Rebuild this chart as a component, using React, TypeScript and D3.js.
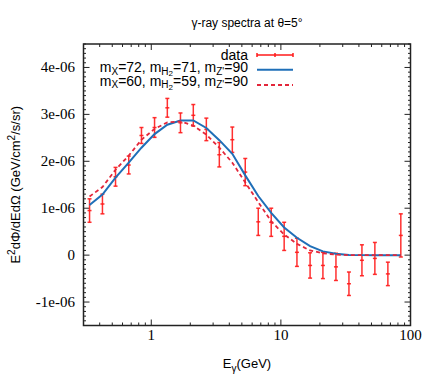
import * as d3 from "d3";

// photon energies (GeV) of the measured bins
const energies = [0.334, 0.42, 0.53, 0.67, 0.84, 1.06, 1.33, 1.68, 2.11, 2.66, 3.35, 4.22, 5.31,
  6.69, 8.42, 10.6, 13.3, 16.8, 21.1, 26.6, 33.5, 42.2, 53.1, 66.9, 84.2];
// E^2 dPhi/dEdOmega, in units of 1e-06 GeV/cm^2/s/sr
const fluxData = [0.95, 1.09, 1.67, 1.92, 2.55, 2.72, 3.14, 2.82, 2.98, 2.68, 2.14, 2.46, 1.77,
  0.71, 0.70, 0.40, 0.06, -0.22, -0.22, -0.25, -0.61, -0.11, -0.07, -0.40, 0.42];
const fluxErr = [0.25, 0.21, 0.2, 0.19, 0.17, 0.21, 0.2, 0.21, 0.23, 0.24, 0.26, 0.27, 0.29,
  0.29, 0.3, 0.3, 0.3, 0.27, 0.28, 0.29, 0.25, 0.33, 0.34, 0.25, 0.46];
const model72 = [1.07, 1.29, 1.65, 1.97, 2.29, 2.58, 2.78, 2.87, 2.87, 2.71, 2.45, 2.16, 1.70,
  1.26, 0.90, 0.59, 0.37, 0.19, 0.08, 0.03, 0.005, 0, 0, 0, 0];
const model60 = [1.25, 1.45, 1.82, 2.12, 2.46, 2.69, 2.83, 2.85, 2.76, 2.57, 2.29, 1.97, 1.55,
  1.13, 0.72, 0.44, 0.24, 0.10, 0.04, 0.01, 0, 0, 0, 0, 0];

const yTicks = [-1, 0, 1, 2, 3, 4];
const yTickLabels = ["-1e-06", "0", "1e-06", "2e-06", "3e-06", "4e-06"];
const xTicks = [1, 10, 100];
const xTickLabels = ["1", "10", "100"];

const W = 436;
const H = 389;
const L = 83.5, R = 410.5, T = 44, B = 325.5;

const RED = "#ff1a1a";
const BLUE = "#1f6fb8";
const DASH = "#e3263a";

export default function App() {
  const x = d3.scaleLog().domain([0.3, 100]).range([L, R]);
  const y = d3.scaleLinear().domain([-1.5, 4.5]).range([B, T]);

  const line = d3.line<number>()
    .x((_, i) => x(energies[i]))
    .y(d => y(d));

  const xMinor: number[] = [];
  [0.1, 1, 10].forEach(dec => {
    for (let k = 2; k <= 9; k++) {
      const v = k * dec;
      if (v >= 0.3 && v < 100 && ![1, 10].includes(v)) xMinor.push(v);
    }
  });
  const yMinor = d3.range(-15, 46).map(v => v / 10).filter(v => !yTicks.includes(v));

  const serif = "'Liberation Serif', 'Times New Roman', serif";
  const sans = "'Liberation Sans', Arial, sans-serif";

  return (
    <svg width={W} height={H} style={{ position: "absolute", left: 0, top: 0, background: "#fff" }}>
      <text x={(L + R) / 2} y={27} textAnchor="middle" fontFamily={sans} fontSize={12}>
        γ-ray spectra at θ=5°
      </text>

      {/* ticks */}
      <g stroke="#222" strokeWidth={1}>
        {xTicks.map(v => (
          <g key={"xt" + v}>
            <line x1={x(v)} x2={x(v)} y1={B} y2={B - 6} />
            <line x1={x(v)} x2={x(v)} y1={T} y2={T + 6} />
          </g>
        ))}
        {xMinor.map(v => (
          <g key={"xm" + v}>
            <line x1={x(v)} x2={x(v)} y1={B} y2={B - 3} />
            <line x1={x(v)} x2={x(v)} y1={T} y2={T + 3} />
          </g>
        ))}
        {yTicks.map(v => (
          <g key={"yt" + v}>
            <line x1={L} x2={L + 6} y1={y(v)} y2={y(v)} />
            <line x1={R} x2={R - 6} y1={y(v)} y2={y(v)} />
          </g>
        ))}
        {yMinor.map(v => (
          <g key={"ym" + v}>
            <line x1={L} x2={L + 2.5} y1={y(v)} y2={y(v)} />
            <line x1={R} x2={R - 2.5} y1={y(v)} y2={y(v)} />
          </g>
        ))}
      </g>

      {/* tick labels */}
      {yTicks.map((v, i) => (
        <text key={"yl" + v} x={75} y={y(v) + 5} textAnchor="end" fontFamily={serif} fontSize={15}>
          {yTickLabels[i]}
        </text>
      ))}
      {xTicks.map((v, i) => (
        <text key={"xl" + v} x={x(v)} y={340} textAnchor="middle" fontFamily={serif} fontSize={15}>
          {xTickLabels[i]}
        </text>
      ))}

      {/* axis titles */}
      <text x={(L + R) / 2} y={368} textAnchor="middle" fontFamily={sans} fontSize={13}>
        E<tspan dy={4} fontSize={10}>γ</tspan><tspan dy={-4}>(GeV)</tspan>
      </text>
      <text transform={`translate(20,${(T + B) / 2}) rotate(-90)`} textAnchor="middle" fontFamily={sans} fontSize={13}>
        E<tspan dy={-5} fontSize={10}>2</tspan><tspan dy={5}>dΦ/dEdΩ (GeV/cm</tspan>
        <tspan dy={-5} fontSize={10}>2</tspan><tspan dy={5}>/s/sr)</tspan>
      </text>

      {/* data with error bars */}
      <g stroke={RED} strokeWidth={1.5} strokeOpacity={0.9}>
        {energies.map((e, i) => {
          const cx = x(e);
          const y0 = y(fluxData[i] + fluxErr[i]);
          const y1 = y(fluxData[i] - fluxErr[i]);
          return (
            <g key={"d" + i}>
              <line x1={cx} x2={cx} y1={y0} y2={y1} />
              <line x1={cx - 2} x2={cx + 2} y1={y0} y2={y0} />
              <line x1={cx - 2} x2={cx + 2} y1={y1} y2={y1} />
              <line x1={cx - 2} x2={cx + 2} y1={y(fluxData[i])} y2={y(fluxData[i])} />
            </g>
          );
        })}
      </g>

      <path d={line(model72) ?? ""} fill="none" stroke={BLUE} strokeWidth={2} />
      <path d={line(model60) ?? ""} fill="none" stroke={DASH} strokeWidth={1.8} strokeDasharray="4,3" />

      {/* legend */}
      <g fontFamily={sans} fontSize={14} textAnchor="end">
        <text x={248} y={59.5}>data</text>
        <text x={248} y={72}>
          m<tspan dy={2.5} fontSize={10}>X</tspan><tspan dy={-2.5}>=72, m</tspan>
          <tspan dy={2.5} fontSize={10}>H</tspan><tspan dy={1.5} fontSize={8}>2</tspan>
          <tspan dy={-4}>=71, m</tspan><tspan dy={2.5} fontSize={10}>Z'</tspan>
          <tspan dy={-2.5}>=90</tspan>
        </text>
        <text x={248} y={85.5}>
          m<tspan dy={2.5} fontSize={10}>X</tspan><tspan dy={-2.5}>=60, m</tspan>
          <tspan dy={2.5} fontSize={10}>H</tspan><tspan dy={1.5} fontSize={8}>2</tspan>
          <tspan dy={-4}>=59, m</tspan><tspan dy={2.5} fontSize={10}>Z'</tspan>
          <tspan dy={-2.5}>=90</tspan>
        </text>
      </g>
      <g stroke={RED} strokeWidth={1.5}>
        <line x1={257} x2={293} y1={55} y2={55} />
        <line x1={257} x2={257} y1={53} y2={57} />
        <line x1={293} x2={293} y1={53} y2={57} />
        <line x1={275} x2={275} y1={53} y2={57} />
      </g>
      <line x1={257} x2={293} y1={69.7} y2={69.7} stroke={BLUE} strokeWidth={2} />
      <line x1={257} x2={293} y1={85} y2={85} stroke={DASH} strokeWidth={1.8} strokeDasharray="4,3" />

      {/* frame */}
      <rect x={L} y={T} width={R - L} height={B - T} fill="none" stroke="#222" strokeWidth={1.5} />
    </svg>
  );
}
